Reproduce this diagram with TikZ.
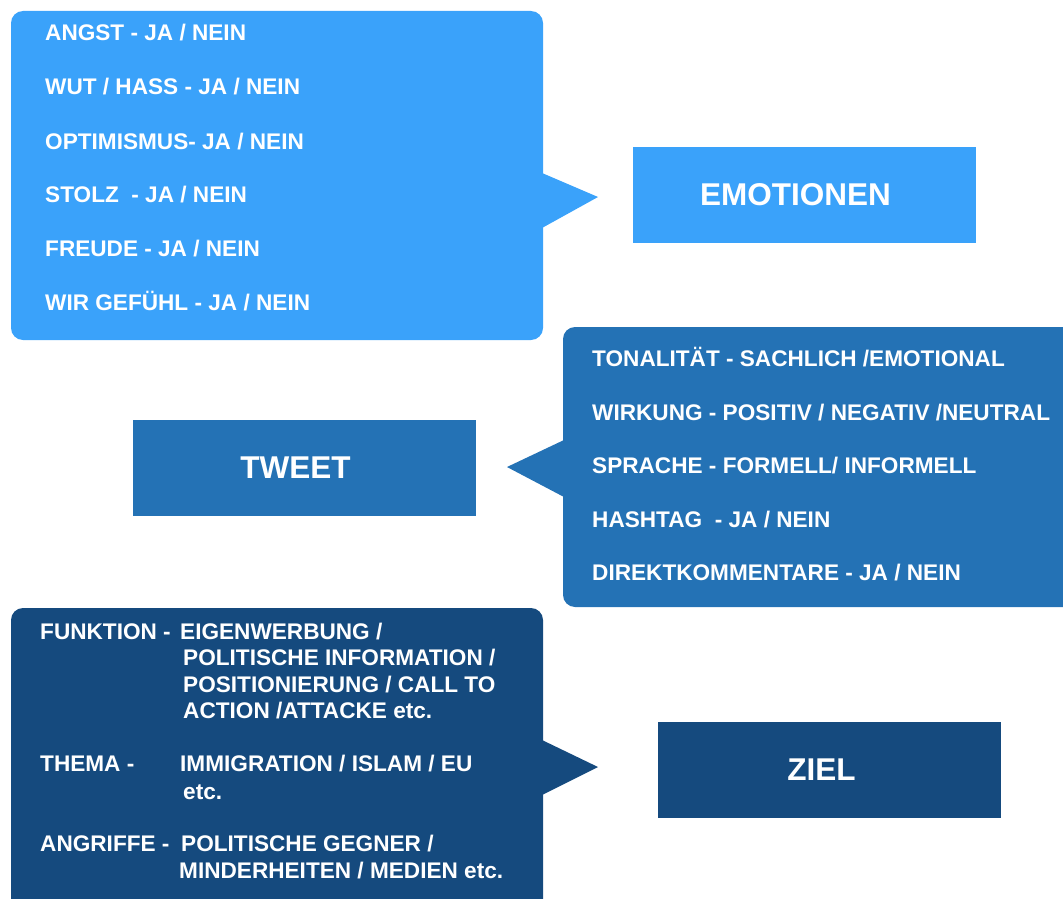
\documentclass[tikz,border=0pt]{standalone}
\usepackage{fontspec}
\setmainfont{Liberation Sans}
\definecolor{lightblue}{HTML}{3AA2FA}
\definecolor{midblue}{HTML}{2472B5}
\definecolor{darkblue}{HTML}{154A7E}
\begin{document}
\begin{tikzpicture}[x=1pt, y=-1pt,
    bubble/.style={rounded corners=12pt},
    item/.style={anchor=base west, text=white, inner sep=0pt, font=\fontsize{22.6}{26}\selectfont\bfseries},
    title/.style={rectangle, minimum width=343pt, minimum height=96pt, text=white, font=\fontsize{31.5}{36}\selectfont\bfseries}
]
\useasboundingbox (0,0) rectangle (1063,899);
% speech bubbles
\fill[lightblue, bubble] (11,11) rectangle (543,340);
\fill[lightblue] (542,173) -- (598,197) -- (542,228) -- cycle;
\fill[midblue, bubble] (563,327) rectangle (1090,607);
\fill[midblue] (564,440) -- (507,467) -- (564,497) -- cycle;
\fill[darkblue, bubble] (11,608) rectangle (543,930);
\fill[darkblue] (542,740) -- (598,767) -- (542,795) -- cycle;
% category boxes (text sits a little left of centre)
\node[title, fill=lightblue] (emo)   at (804.5,195)   {EMOTIONEN\hspace*{18pt}};
\node[title, fill=midblue]   (tweet) at (304.5,467.5) {TWEET\hspace*{18pt}};
\node[title, fill=darkblue]  (ziel)  at (829.5,770)   {ZIEL\hspace*{16pt}};
% emotions
\node[item] (angst)  at (45,41)  {ANGST - JA / NEIN};
\node[item] (wut)    at (45,95)  {WUT / HASS - JA / NEIN};
\node[item] (opt)    at (45,149) {OPTIMISMUS- JA / NEIN};
\node[item] (stolz)  at (45,202) {STOLZ~ - JA / NEIN};
\node[item] (freude) at (45,256) {FREUDE - JA / NEIN};
\node[item] (wir)    at (45,310) {WIR GEFÜHL - JA / NEIN};
% tweet
\node[item] (ton)    at (592,366) {TONALITÄT - SACHLICH /EMOTIONAL};
\node[item] (wirk)   at (592,420) {WIRKUNG - POSITIV / NEGATIV /NEUTRAL};
\node[item] (spr)    at (592,473) {SPRACHE - FORMELL/ INFORMELL};
\node[item] (hash)   at (592,527) {HASHTAG~ - JA / NEIN};
\node[item] (direkt) at (592,580) {DIREKTKOMMENTARE - JA / NEIN};
% ziel
\node[item] (fkt)    at (40,639)  {FUNKTION -};
\node[item] (fkta)   at (180,639) {EIGENWERBUNG /};
\node[item] (fktb)   at (183,665) {POLITISCHE INFORMATION /};
\node[item] (fktc)   at (183,692) {POSITIONIERUNG / CALL TO};
\node[item] (fktd)   at (183,718) {ACTION /ATTACKE etc.};
\node[item] (thema)  at (40,771)  {THEMA -};
\node[item] (themaa) at (180,771) {IMMIGRATION / ISLAM / EU};
\node[item] (themab) at (183,799) {etc.};
\node[item] (angr)   at (40,851)  {ANGRIFFE -};
\node[item] (angra)  at (181,851) {POLITISCHE GEGNER /};
\node[item] (angrb)  at (179,878) {MINDERHEITEN / MEDIEN etc.};
\end{tikzpicture}
\end{document}
